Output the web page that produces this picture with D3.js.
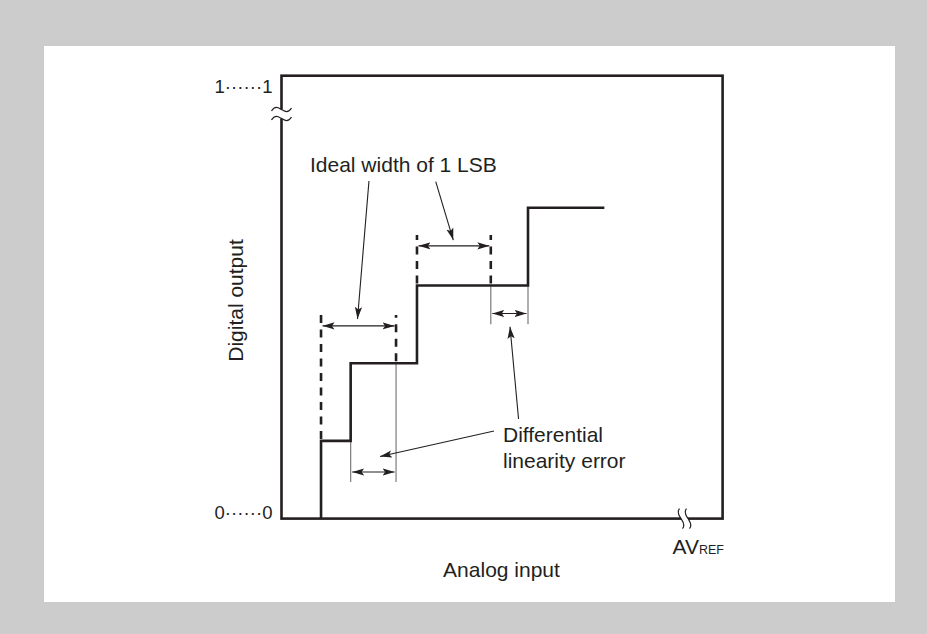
<!DOCTYPE html>
<html>
<head>
<meta charset="utf-8">
<script src="https://cdn.jsdelivr.net/npm/d3@7"></script>
<style>
html,body{margin:0;padding:0;background:#cccccc;}
svg{display:block;}
text{font-family:"Liberation Sans",Arial,Helvetica,sans-serif;fill:#231f20;}
</style>
</head>
<body>
<script>
// ---- data (input in LSB units, output in codes) ----
const codes = [0, 1, 2, 3, 4];
const transitions = [0.527, 0.922, 1.806, 3.286, 4.304]; // input where each code starts (last = end of drawn line)
const idealSpans = [ {x0: 0.527, x1: 1.527, yBase0: 1, yBase1: 2, yTop: 2.62, yArrow: 2.48},
                     {x0: 1.806, x1: 2.79,  yBase0: 3, yBase1: 3, yTop: 3.65, yArrow: 3.51} ];
const errorSpans = [ {x0: 0.922, x1: 1.527, y0a: 1, y0b: 2, yBottom: 0.47, yArrow: 0.60},
                     {x0: 2.79,  x1: 3.286, y0a: 3, y0b: 3, yBottom: 2.50, yArrow: 2.64} ];
const leaders = [ {x1: 1.166, y1: 4.345, x2: 1.013, y2: 2.569},
                  {x1: 2.056, y1: 4.336, x2: 2.290, y2: 3.585},
                  {x1: 2.833, y1: 1.127, x2: 1.313, y2: 0.799},
                  {x1: 3.160, y1: 1.282, x2: 3.046, y2: 2.470} ];
const yTickLabels = ["0······0", "1······1"];
const xMaxLabel = ["AV", "REF"];
const xTitle = "Analog input";
const yTitle = "Digital output";
const noteIdeal = "Ideal width of 1 LSB";
const noteDiff = ["Differential", "linearity error"];
const xDomain = [0, 5.88];
const yDomain = [0, 5.70];

// ---- layout ----
const W = 927, H = 634;
const frame = {left: 281.5, right: 722.6, top: 75.7, bottom: 518.6};
const ink = "#231f20";

const svg = d3.select("body").append("svg").attr("width", W).attr("height", H);
svg.append("rect").attr("width", W).attr("height", H).attr("fill", "#cccccc");
svg.append("rect").attr("x", 44).attr("y", 46).attr("width", 851).attr("height", 556).attr("fill", "#ffffff");

const x = d3.scaleLinear().domain(xDomain).range([frame.left, frame.right]);
const y = d3.scaleLinear().domain(yDomain).range([frame.bottom, frame.top]);

// markers
const defs = svg.append("defs");
defs.append("marker").attr("id", "ah")
  .attr("viewBox", "0 -5 12 10").attr("refX", 12).attr("refY", 0)
  .attr("markerUnits", "userSpaceOnUse").attr("markerWidth", 12).attr("markerHeight", 10)
  .attr("orient", "auto-start-reverse")
  .append("path").attr("d", "M0,-3.6L12,0L0,3.6L2.5,0Z").attr("fill", ink);

// frame
svg.append("rect").attr("x", frame.left).attr("y", frame.top)
  .attr("width", frame.right - frame.left).attr("height", frame.bottom - frame.top)
  .attr("fill", "none").attr("stroke", ink).attr("stroke-width", 2.6);

// axis break on y axis
const byc = 114;
svg.append("rect").attr("x", frame.left - 3).attr("y", byc - 4.5).attr("width", 6).attr("height", 9).attr("fill", "#fff");
[-4.5, 4.5].forEach(dy => {
  const cy = byc + dy, cx = frame.left;
  svg.append("path")
    .attr("d", `M${cx-10},${cy+1.5} C${cx-6},${cy-5} ${cx-2},${cy-1} ${cx},${cy} S${cx+6},${cy+5} ${cx+10},${cy-1.5}`)
    .attr("fill", "none").attr("stroke", ink).attr("stroke-width", 1.2);
});
// axis break on x axis
const bxc = 684.5;
svg.append("rect").attr("x", bxc - 3.5).attr("y", frame.bottom - 3).attr("width", 7).attr("height", 6).attr("fill", "#fff");
[-3.5, 3.5].forEach(dx => {
  const cx = bxc + dx, cy = frame.bottom;
  svg.append("path")
    .attr("d", `M${cx-1.5},${cy-10} C${cx-5},${cy-6} ${cx-1},${cy-2} ${cx},${cy} S${cx+5},${cy+6} ${cx+1.5},${cy+10}`)
    .attr("fill", "none").attr("stroke", ink).attr("stroke-width", 1.2);
});

// thin extension lines (gray)
const ext = svg.append("g").attr("stroke", "#7a7a7a").attr("stroke-width", 1.2);
errorSpans.forEach(s => {
  ext.append("line").attr("x1", x(s.x0)).attr("x2", x(s.x0)).attr("y1", y(s.y0a)).attr("y2", y(s.yBottom));
  ext.append("line").attr("x1", x(s.x1)).attr("x2", x(s.x1)).attr("y1", y(s.y0b)).attr("y2", y(s.yBottom));
});

// dashed ideal-width lines
const dash = svg.append("g").attr("stroke", ink).attr("stroke-width", 2.6).attr("stroke-dasharray", "8,6.5");
idealSpans.forEach(s => {
  dash.append("line").attr("x1", x(s.x0)).attr("x2", x(s.x0)).attr("y1", y(s.yBase0) - 2).attr("y2", y(s.yTop));
  dash.append("line").attr("x1", x(s.x1)).attr("x2", x(s.x1)).attr("y1", y(s.yBase1) - 2).attr("y2", y(s.yTop));
});

// staircase transfer characteristic
const pts = codes.map((c, i) => [transitions[i], c]);
const line = d3.line().x(d => x(d[0])).y(d => y(d[1])).curve(d3.curveStepBefore);
svg.append("path").attr("d", line(pts)).attr("fill", "none")
  .attr("stroke", ink).attr("stroke-width", 2.6).attr("stroke-linejoin", "miter").attr("stroke-linecap", "butt");

// dimension arrows
const dim = svg.append("g").attr("stroke", ink).attr("stroke-width", 1.1);
idealSpans.concat(errorSpans).forEach(s => {
  dim.append("line").attr("x1", x(s.x0) + 1.5).attr("x2", x(s.x1) - 1.5)
    .attr("y1", y(s.yArrow)).attr("y2", y(s.yArrow))
    .attr("marker-start", "url(#ah)").attr("marker-end", "url(#ah)");
});

// leader lines
const lead = svg.append("g").attr("stroke", ink).attr("stroke-width", 1.1);
leaders.forEach(l => {
  lead.append("line").attr("x1", x(l.x1)).attr("y1", y(l.y1)).attr("x2", x(l.x2)).attr("y2", y(l.y2))
    .attr("marker-end", "url(#ah)");
});

// tick labels
svg.append("text").attr("x", 272.5).attr("y", 519.3).attr("text-anchor", "end")
  .attr("font-size", 18.5).attr("textLength", 58).attr("lengthAdjust", "spacing").text(yTickLabels[0]);
svg.append("text").attr("x", 272.5).attr("y", 92.7).attr("text-anchor", "end")
  .attr("font-size", 18.5).attr("textLength", 58).attr("lengthAdjust", "spacing").text(yTickLabels[1]);

const av = svg.append("text").attr("x", 672.5).attr("y", 554).attr("font-size", 21);
av.append("tspan").text(xMaxLabel[0]);
av.append("tspan").attr("font-size", 12.5).text(xMaxLabel[1]);

// titles
svg.append("text").attr("x", 501.5).attr("y", 577).attr("text-anchor", "middle").attr("font-size", 21).text(xTitle);
svg.append("text").attr("transform", "translate(243,300.5) rotate(-90)").attr("text-anchor", "middle")
  .attr("font-size", 21).text(yTitle);

// notes
svg.append("text").attr("x", 310).attr("y", 172).attr("font-size", 21).text(noteIdeal);
noteDiff.forEach((t, i) => {
  svg.append("text").attr("x", 503).attr("y", 442 + i * 26.3).attr("font-size", 21).text(t);
});
</script>
</body>
</html>
